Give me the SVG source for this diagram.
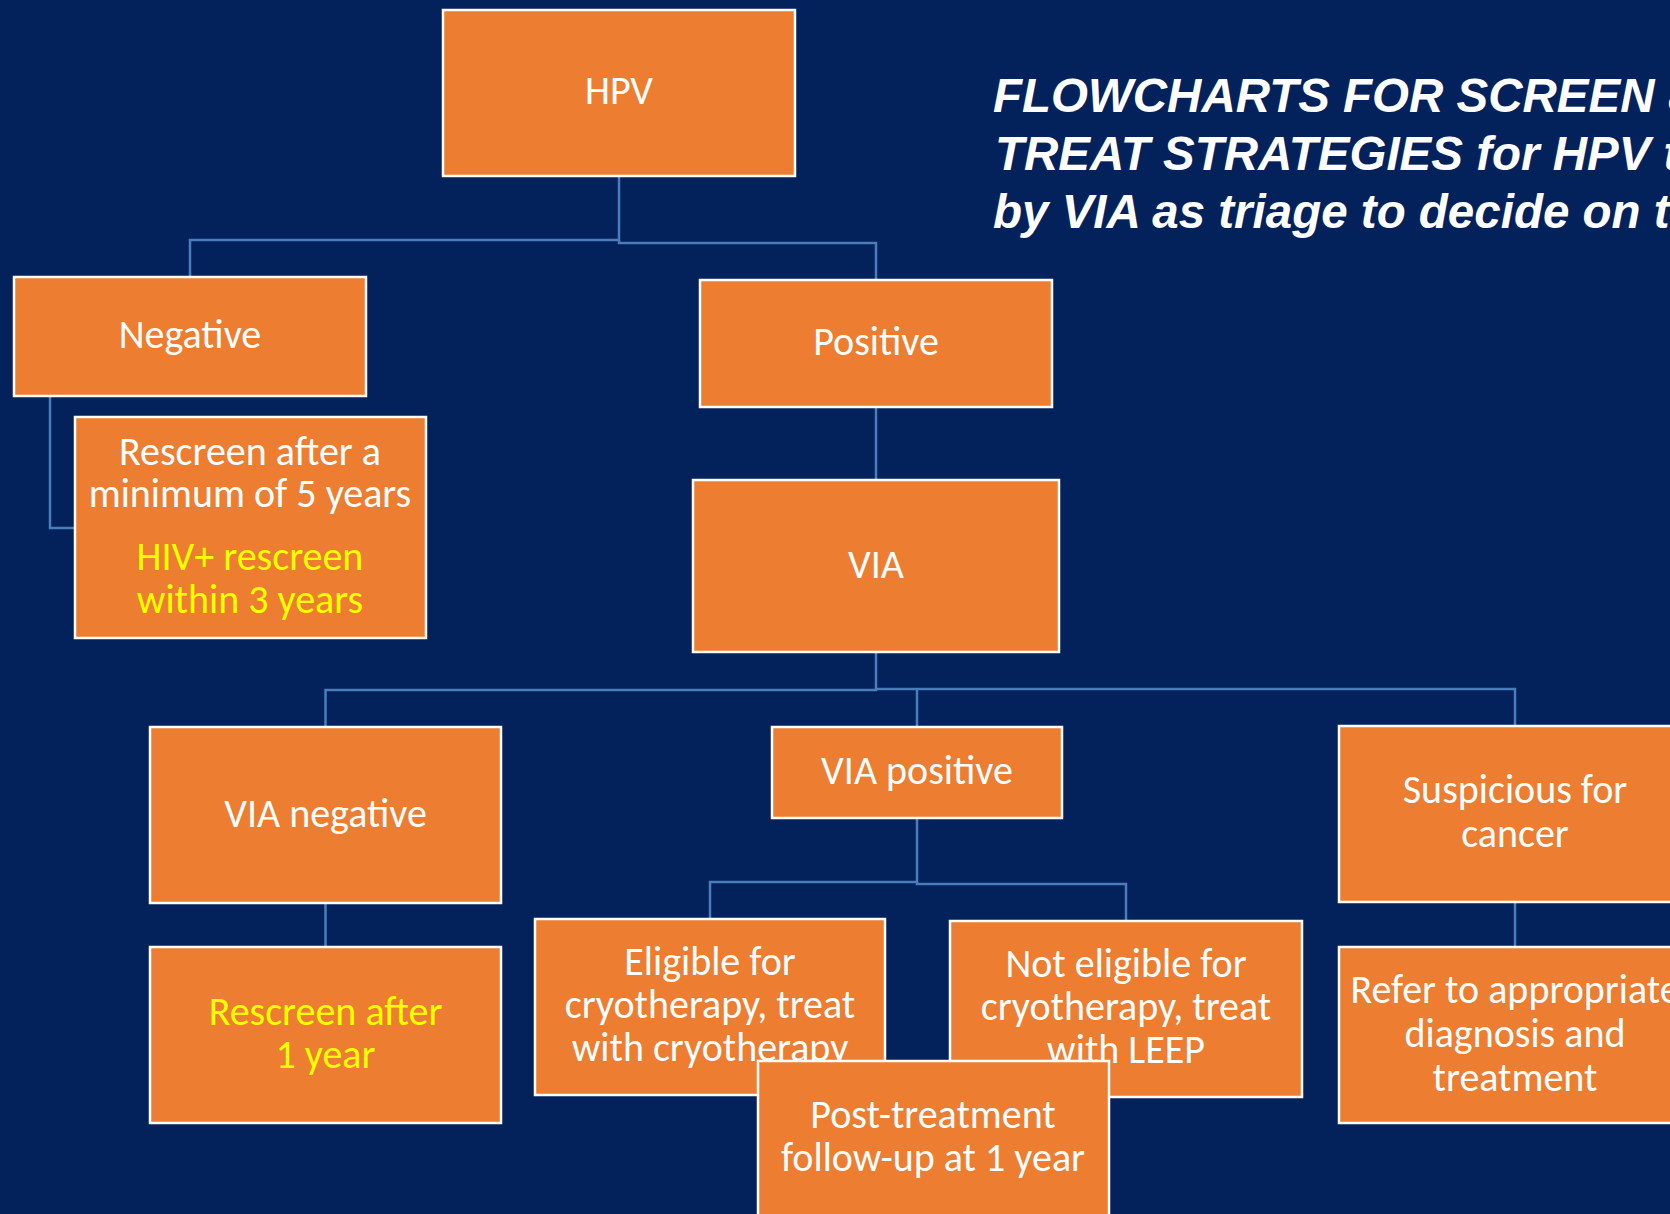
<svg xmlns="http://www.w3.org/2000/svg" width="1670" height="1214" viewBox="0 0 1670 1214">
<style>
.bx{fill:#ED7D31;stroke:#FFFFFF;stroke-width:2.5}
.t{font-family:Carlito,'Liberation Sans Narrow','Open Sans',sans-serif;font-size:40px;fill:#FFFFFF;text-anchor:middle}
.y{fill:#FFFF00}
.ttl{font-family:'Liberation Sans',Arial,sans-serif;font-size:47.5px;font-weight:bold;font-style:italic;fill:#FFFFFF}
.c{fill:none;stroke:#4A7EBB;stroke-width:2.5}
</style>
<rect x="0" y="0" width="1670" height="1214" fill="#03215A"/>
<g id="title">
<text class="ttl" x="993" y="112">FLOWCHARTS FOR SCREEN &amp;</text>
<text class="ttl" x="995" y="170">TREAT STRATEGIES for HPV t</text>
<text class="ttl" x="993" y="228">by VIA as triage to decide on t</text>
</g>
<g id="connectors">
<path class="c" d="M619,176 V240 H190 V277"/>
<path class="c" d="M619,240 V243 H876 V280"/>
<path class="c" d="M50,396 V528 H75"/>
<path class="c" d="M876,407 V480"/>
<path class="c" d="M876,652 V690 H325.5 V727"/>
<path class="c" d="M876,689 H1515 V726"/>
<path class="c" d="M917,690 V727"/>
<path class="c" d="M917,818 V882 H710 V919"/>
<path class="c" d="M917,882 V884 H1126 V921"/>
<path class="c" d="M325.5,903 V947"/>
<path class="c" d="M1515,902 V947"/>
</g>
<g id="hpv"><rect class="bx" x="443" y="10" width="352" height="166"/><text class="t" x="619" y="104">HPV</text></g>
<g id="negative"><rect class="bx" x="14" y="277" width="352" height="119"/><text class="t" x="190" y="348">Negative</text></g>
<g id="positive"><rect class="bx" x="700" y="280" width="352" height="127"/><text class="t" x="876" y="355">Positive</text></g>
<g id="rescreen5"><rect class="bx" x="75" y="417" width="351" height="221"/>
<text class="t" x="250" y="465">Rescreen after a</text>
<text class="t" x="250" y="507">minimum of 5 years</text>
<text class="t y" x="250" y="570">HIV+ rescreen</text>
<text class="t y" x="250" y="613">within 3 years</text></g>
<g id="via"><rect class="bx" x="693" y="480" width="366" height="172"/><text class="t" x="876" y="578">VIA</text></g>
<g id="vianeg"><rect class="bx" x="150" y="727" width="351" height="176"/><text class="t" x="325.5" y="827">VIA negative</text></g>
<g id="viapos"><rect class="bx" x="772" y="727" width="290" height="91"/><text class="t" x="917" y="784">VIA positive</text></g>
<g id="suspicious"><rect class="bx" x="1339" y="726" width="352" height="176"/>
<text class="t" x="1515" y="803">Suspicious for</text>
<text class="t" x="1515" y="847">cancer</text></g>
<g id="rescreen1"><rect class="bx" x="150" y="947" width="351" height="176"/>
<text class="t y" x="325.5" y="1025">Rescreen after</text>
<text class="t y" x="325.5" y="1068">1 year</text></g>
<g id="eligible"><rect class="bx" x="535" y="919" width="350" height="176"/>
<text class="t" x="710" y="975">Eligible for</text>
<text class="t" x="710" y="1018">cryotherapy, treat</text>
<text class="t" x="710" y="1061">with cryotherapy</text></g>
<g id="noteligible"><rect class="bx" x="950" y="921" width="352" height="176"/>
<text class="t" x="1126" y="977">Not eligible for</text>
<text class="t" x="1126" y="1020">cryotherapy, treat</text>
<text class="t" x="1126" y="1063">with LEEP</text></g>
<g id="refer"><rect class="bx" x="1339" y="947" width="352" height="176"/>
<text class="t" x="1515" y="1003">Refer to appropriate</text>
<text class="t" x="1515" y="1047">diagnosis and</text>
<text class="t" x="1515" y="1091">treatment</text></g>
<g id="posttreatment"><rect class="bx" x="758" y="1061" width="351" height="176"/>
<text class="t" x="933" y="1128">Post-treatment</text>
<text class="t" x="933" y="1171">follow-up at 1 year</text></g>
</svg>
